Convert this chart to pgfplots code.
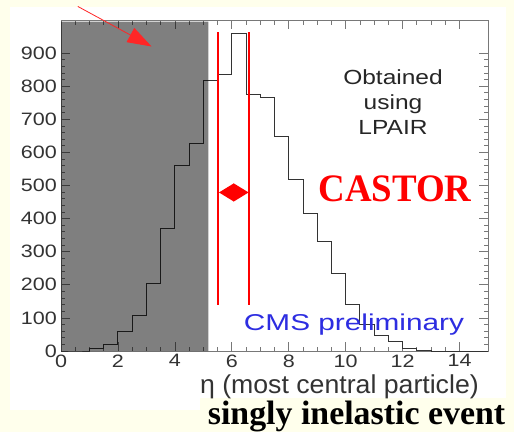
\documentclass[border=0pt]{standalone}
\usepackage{pgfplots}
\pgfplotsset{compat=1.18}
\usepackage{fontspec}
\setmainfont{Liberation Sans}
\newfontfamily\serifb{Liberation Serif}
\usetikzlibrary{arrows.meta}
\definecolor{ivory}{RGB}{255,255,236}
\definecolor{cmsblue}{RGB}{45,45,225}
\definecolor{framegray}{RGB}{120,120,120}
\begin{document}
\begin{tikzpicture}
\fill[ivory] (0bp,0bp) rectangle (514bp,-432bp);
\fill[white] (10bp,-6.7bp) rectangle (506bp,-410bp);
\fill[ivory] (200bp,-398bp) rectangle (514bp,-432bp);
\begin{axis}[
  at={(61bp,-351bp)}, anchor=south west,
  scale only axis, width=427bp, height=331bp,
  xmin=0, xmax=15, ymin=0, ymax=1000,
  xtick={0,2,...,14}, ytick={0,100,...,900},
  minor x tick num=3, minor y tick num=4,
  tick align=inside,
  major tick length=9bp, minor tick length=4.5bp,
  axis line style={framegray, line width=0.8bp},
  tick style={framegray, line width=0.7bp},
  tick label style={font=\fontsize{18}{20}\selectfont, text=black!80, xscale=1.2},
  /pgf/number format/assume math mode=true,
  xlabel={η (most central particle)},
  x label style={at={(axis description cs:0.652,0)}, anchor=base, yshift=-42.3bp, font=\fontsize{26}{28}\selectfont, text=black!80, xscale=1.03},
  clip=false,
]
\addplot[const plot, black!80, line width=0.9bp] coordinates {
 (0,0) (0.5,0) (1,8) (1.5,20) (2,60) (2.5,106) (3,203) (3.5,371) (4,562) (4.5,628)
 (5,816) (5.5,835) (6,959) (6.5,776) (7,766) (7.5,648) (8,517) (8.5,416) (9,332)
 (9.5,235) (10,140) (10.5,80) (11,48) (11.5,28) (12,7) (12.5,3) (13,0) (15,0)};
\addplot[draw=none, fill=black, fill opacity=0.5] coordinates {(0,0) (0,995) (5.18,995) (5.18,0)} \closedcycle;
\draw[red, line width=2bp] (axis cs:5.52,139) -- (axis cs:5.52,963);
\draw[red, line width=2bp] (axis cs:6.61,139) -- (axis cs:6.61,963);
\draw[red, line width=1.5bp, {Triangle[length=15bp,width=18bp]}-{Triangle[length=15bp,width=18bp]}] (axis cs:5.55,479) -- (axis cs:6.59,479);
\draw[red!85!white, line width=0.8bp, -{Triangle[length=24bp,width=16bp]}] (axis cs:0.59,1041) -- (axis cs:3.18,920);
\end{axis}
\node[anchor=base, font=\fontsize{20.5}{22}\selectfont, text=black!85, xscale=1.2] at (393bp,-84bp) {Obtained};
\node[anchor=base, font=\fontsize{20.5}{22}\selectfont, text=black!85, xscale=1.2] at (393bp,-109bp) {using};
\node[anchor=base, font=\fontsize{20.5}{22}\selectfont, text=black!85, xscale=1.2] at (393bp,-134bp) {LPAIR};
\node[anchor=base, font=\serifb\bfseries\fontsize{39}{40}\selectfont, text=red, xscale=0.95] at (395bp,-201.7bp) {CASTOR};
\node[anchor=base, font=\fontsize{23}{25}\selectfont, text=cmsblue, xscale=1.3] at (354bp,-330.7bp) {CMS preliminary};
\node[anchor=base, font=\serifb\bfseries\fontsize{34}{36}\selectfont, text=black] at (356.5bp,-424bp) {singly inelastic event};
\pgfresetboundingbox
\useasboundingbox (0bp,0bp) rectangle (514bp,-432bp);
\end{tikzpicture}
\end{document}
